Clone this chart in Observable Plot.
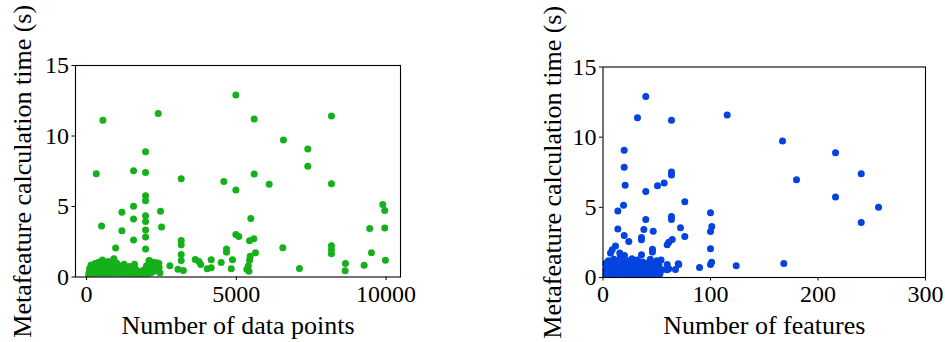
<!DOCTYPE html>
<html><head><meta charset="utf-8">
<script src="https://cdn.jsdelivr.net/npm/d3@7"></script>
<script src="https://cdn.jsdelivr.net/npm/@observablehq/plot@0.6"></script>
<style>
body{margin:0;background:#fff;}
#wrap{display:flex;width:945px;height:342px;overflow:hidden;background:#fff}
#wrap svg text{font-family:'Liberation Serif', serif !important;}
</style>
</head><body><div id="wrap"></div>
<script>
// Left panel: number of data points vs time (s)
const pointsN = [545,2391,4983,1969,323,1568,1969,3159,4582,4983,1969,1969,1568,1179,2469,1969,1969,500,2503,1568,1179,1969,1969,1568,3159,3159,4983,5083,968,1969,3159,3159,4671,4671,4870,4493,4830,4160,4160,4027,3627,3750,3810,2780,3050,3230,
5595,8175,6573,7385,7385,5595,6096,8175,9887,9953,5483,9453,9953,5583,5439,6550,8175,8175,8175,5639,9510,5462,5440,9977,8642,9266,7107,8632,5350,5420,5400,
2102,2250,2300,2413,2200,2150,2050,1990,2330,2250,
60,80,100,120,150,180,200,220,250,280,300,320,350,380,400,420,450,480,500,530,560,590,620,650,680,700,730,760,790,820,850,880,910,940,970,1000,1030,1060,1090,1120,1150,1180,1210,1250,1290,1330,1370,1400,1430,1470,1510,1560,1600,1640,1680,1720,1760,1800,1850,1900,1950,2000,2030,2080,2100,2150,2200,2250,2300,2350,2380,2420,2450];
const pointsTime = [11.11,11.59,12.91,8.89,7.33,7.54,7.42,6.97,6.78,6.17,5.76,5.41,5.01,4.60,4.67,4.34,3.94,3.61,3.54,4.11,3.28,3.33,2.83,2.62,2.59,2.29,3.02,2.88,2.05,1.98,1.60,1.17,1.98,1.76,1.22,1.03,0.58,1.22,0.65,0.58,1.24,1.10,0.88,0.80,0.55,0.46,
11.21,11.42,9.72,9.08,7.85,7.30,6.57,6.62,5.15,4.72,4.15,3.44,3.47,2.71,2.57,2.07,2.21,1.93,1.65,1.72,1.72,1.48,1.19,1.19,0.96,0.84,0.60,0.44,0.55,0.40,0.80,
1.17,1.03,1.00,0.95,0.60,0.30,0.20,0.45,0.70,0.40,
0.05,0.30,0.60,0.15,0.85,0.40,0.05,0.70,0.25,0.95,0.50,0.10,0.75,0.30,1.05,0.55,0.15,0.85,0.40,1.20,0.65,0.20,0.90,0.45,0.05,0.75,1.10,0.30,0.60,0.15,0.95,0.45,1.30,0.70,0.25,1.00,0.50,0.10,0.80,0.35,0.60,0.15,0.45,0.90,0.30,0.05,0.60,0.20,0.75,0.40,0.10,0.30,0.90,0.55,0.15,0.40,0.10,0.05,0.20,0.50,0.30,0.80,0.10,1.15,0.60,0.35,0.90,0.75,0.50,0.95,1.00,0.70,0.30];

// Right panel: number of features vs time (s)
const featuresN = [39.8,32.1,63.7,115.5,19.7,19.7,63.7,63.7,20.6,50.7,56.9,39.8,76.1,19.1,13.8,100,63.7,63.7,39.8,101.2,100,13.8,38,46.7,72.1,76.1,19.7,24,35.8,35.8,64.4,61.2,59.7,100,46,46,35.8,11.6,8.6,7,15.6,101,100,89.8,70,67.4,59.7,59.7,
167,216.3,240.2,180,216.3,256.3,240.2,123.9,168.2,
20,27,34.9,61.2,70.5,
1,2,2,3,4,5,5,6,7,8,9,10,10,11,12,13,14,15,16,16,17,18,19,20,21,22,23,24,25,26,27,28,29,30,31,32,33,34,35,36,37,38,39,40,41,42,43,44,45,46,47,48,49,50,51,52,53,54,55];
const featuresTime = [12.89,11.39,11.2,11.58,9.06,7.85,7.51,7.3,6.58,6.54,6.73,6.13,5.4,5.14,4.73,4.61,4.35,4.14,4.14,3.64,3.28,3.45,3.42,3.3,3.54,2.92,3.0,2.57,2.85,2.69,2.71,2.52,2.33,2.05,2.02,1.81,1.62,2.24,1.98,1.74,1.74,1.09,0.93,0.71,0.98,0.57,0.93,0.55,
9.72,8.89,7.4,6.97,5.73,5.01,3.92,0.83,1.0,
1.57,1.33,1.09,0.62,0.93,
0.05,0.5,1.0,0.2,0.8,1.2,0.35,0.65,0.1,0.95,0.45,1.3,0.2,0.7,1.05,0.3,0.55,0.9,0.1,1.4,0.6,0.35,1.1,0.75,0.15,0.5,1.2,0.85,0.3,0.05,0.65,1.0,0.4,0.8,0.15,1.25,0.55,0.25,0.9,0.45,1.1,0.1,0.7,0.35,1.0,0.6,0.2,1.3,0.8,0.45,1.05,0.15,0.65,1.2,0.4,0.9,0.25,1.25,0.55];

const leftTicks = [0, 5000, 10000];
const rightTicks = [0, 100, 200, 300];
const yTicks = [0, 5, 10, 15];
const yLabel = "Metafeature calculation time (s)";

const leftData = pointsN.map((x, i) => ({x, t: pointsTime[i]}));
const rightData = featuresN.map((x, i) => ({x, t: featuresTime[i]}));
const serif = "'Liberation Serif', serif";

function panel({data, domain, ticks, color, xlabel, width, ml, mr, mt, mb, ylabDx}) {
  return Plot.plot({
    width, height: 342,
    marginLeft: ml, marginRight: mr, marginTop: mt, marginBottom: mb,
    style: {fontFamily: serif, fontSize: "24px", background: "white", color: "black", overflow: "visible"},
    x: {domain},
    y: {domain: [0, 15]},
    marks: [
      Plot.dot(data, {x: "x", y: "t", r: 3.5, fill: color, stroke: "none", clip: true}),
      Plot.frame({stroke: "black", strokeWidth: 1.1}),
      Plot.axisX({ticks, tickSize: 3.5, tickPadding: 4, label: null, tickFormat: d3.format("d"), fontSize: 24, fontFamily: serif, fontVariant: "normal"}),
      Plot.axisY({ticks: yTicks, tickSize: 3.5, tickPadding: 3, label: null, fontSize: 24, fontFamily: serif, fontVariant: "normal"}),
      Plot.text([xlabel], {frameAnchor: "bottom", textAnchor: "middle", lineAnchor: "middle", dy: 48.5, fontSize: 26, fontFamily: serif, fill: "black"}),
      Plot.text([yLabel], {frameAnchor: "left", textAnchor: "middle", lineAnchor: "middle", rotate: -90, dx: ylabDx, fontSize: 26, fontFamily: serif, fill: "black"})
    ]
  });
}

const wrap = document.getElementById("wrap");
wrap.appendChild(panel({data: leftData, domain: [-370, 10480], ticks: leftTicks, color: "#15b01a",
  xlabel: "Number of data points", width: 472, ml: 75, mr: 72, mt: 65, mb: 65.5, ylabDx: -53}));
wrap.appendChild(panel({data: rightData, domain: [0, 300], ticks: rightTicks, color: "#0343df",
  xlabel: "Number of features", width: 473, ml: 130.5, mr: 20, mt: 66.5, mb: 65, ylabDx: -50.5}));
</script></body></html>
